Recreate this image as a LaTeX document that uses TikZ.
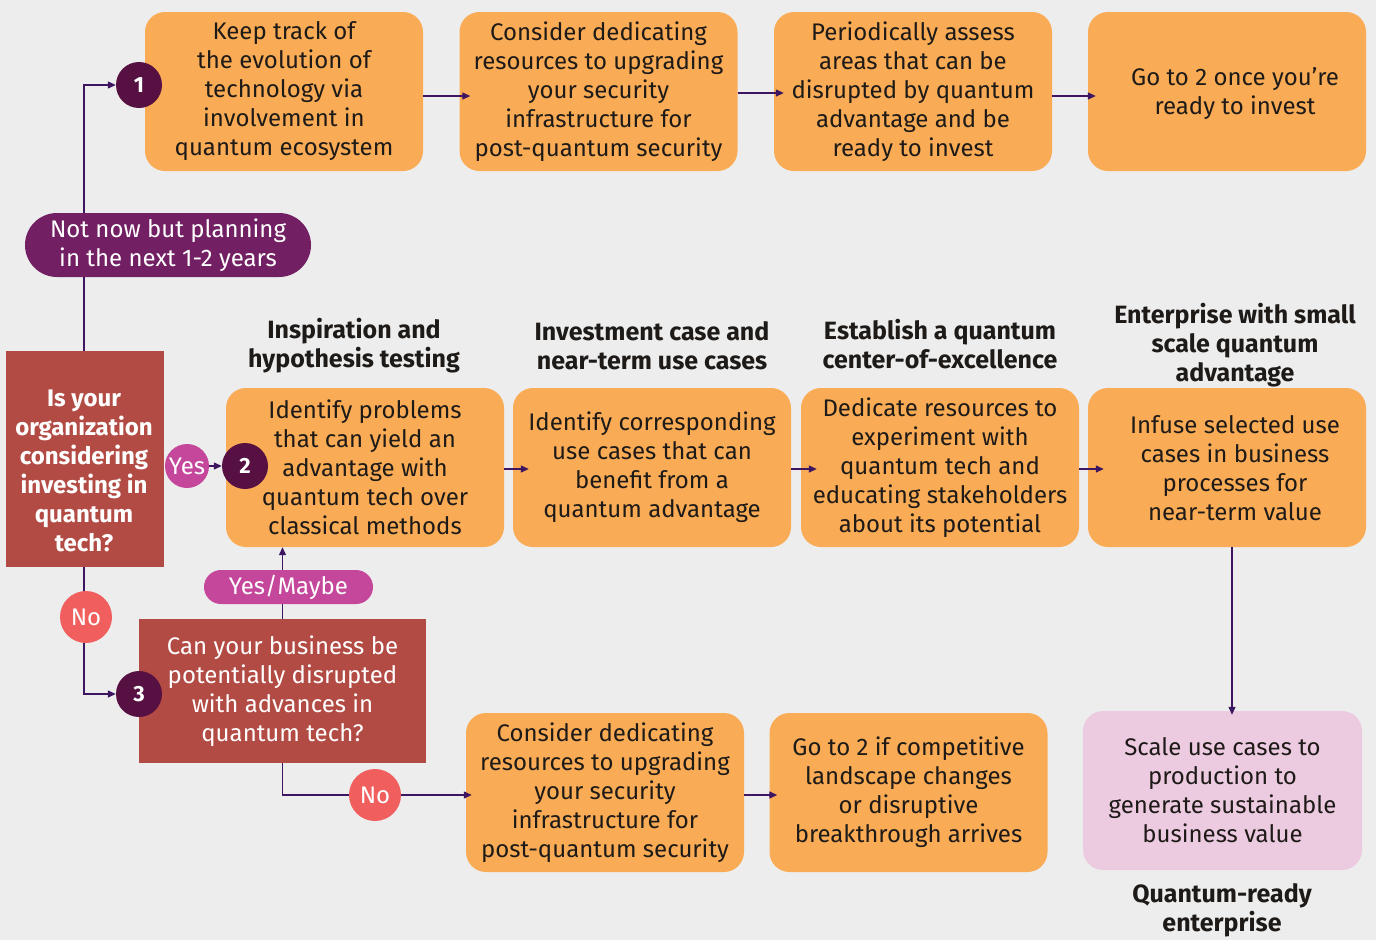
\documentclass[tikz,border=0pt]{standalone}
\usepackage{fontspec}
\setmainfont{Fira Sans}
\usetikzlibrary{arrows.meta}
\pgfdeclarelayer{front}
\pgfsetlayers{main,front}
\definecolor{bg}{HTML}{EDEDED}
\definecolor{orng}{HTML}{F9AC55}
\definecolor{decred}{HTML}{B34B45}
\definecolor{numdark}{HTML}{561042}
\definecolor{pillpurple}{HTML}{722063}
\definecolor{magen}{HTML}{C4479B}
\definecolor{nored}{HTML}{F05E5E}
\definecolor{pinkbox}{HTML}{ECCBE1}
\definecolor{linec}{HTML}{3E1560}
\definecolor{txt}{HTML}{1E1A18}
\newcommand\bodyfont{\fontsize{24}{29}\selectfont}
\newcommand\headfont{\fontsize{25}{29}\selectfont\bfseries}
\newcommand\decfont{\fontsize{24}{29}\selectfont\bfseries}
\tikzset{
  x=1pt, y=-1pt,
  obox/.style={rectangle, rounded corners=20pt, fill=orng, minimum width=278pt, minimum height=159pt, align=center, text=txt, font=\bodyfont, inner sep=0pt},
  pbox/.style={obox, fill=pinkbox},
  btext/.style={align=center, text=txt, font=\bodyfont, inner sep=0pt},
  decbox/.style={rectangle, fill=decred, align=center, text=white, font=\bodyfont, inner sep=0pt},
  numc/.style={circle, fill=numdark, minimum size=46pt, inner sep=0pt, text=white, font=\fontsize{22}{24}\selectfont\bfseries},
  pill/.style={rectangle, rounded corners=17pt, fill=magen, text=white, font=\bodyfont, inner sep=0pt, align=center},
  lblc/.style={circle, inner sep=0pt, text=white, font=\bodyfont},
  head/.style={align=center, text=txt, font=\headfont, inner sep=0pt},
  arr/.style={draw=linec, line width=1.3pt, -{Triangle[length=8pt,width=7pt]}},
}
\begin{document}
\begin{tikzpicture}
\fill[bg] (0,0) rectangle (1376,940);
\useasboundingbox (0,0) rectangle (1376,940);

% row 1
\node[obox] (b1) at (284,91.5) {Keep track of\\the evolution of\\technology via\\involvement in\\quantum ecosystem};
\node[obox] (b2) at (598.5,91.5) {Consider dedicating\\resources to upgrading\\your security\\infrastructure for\\post-quantum security};
\node[obox] (b3) at (913,91.5) {Periodically assess\\areas that can be\\disrupted by quantum\\advantage and be\\ready to invest};
\node[obox] (b4) at (1227,91.5) {};
\node[btext] (b4t) at (1235,93.5) {Go to 2 once you’re\\ready to invest};

% row 2
\node[obox] (c1) at (365,467.5) {Identify problems\\that can yield an\\advantage with\\quantum tech over\\classical methods};
\node[obox] (c2) at (652,467.5) {Identify corresponding\\use cases that can\\benefit from a\\quantum advantage};
\node[obox] (c3) at (940,467.5) {Dedicate resources to\\experiment with\\quantum tech and\\educating stakeholders\\about its potential};
\node[obox] (c4) at (1227,467.5) {};
\node[btext] (c4t) at (1235,468.5) {Infuse selected use\\cases in business\\processes for\\near-term value};

% row 3
\node[obox] (d1) at (605,792.5) {Consider dedicating\\resources to upgrading\\your security\\infrastructure for\\post-quantum security};
\node[obox] (d2) at (908.5,792.5) {Go to 2 if competitive\\landscape changes\\or disruptive\\breakthrough arrives};
\node[pbox, minimum width=279pt] (e) at (1222.5,790.5) {Scale use cases to\\production to\\generate sustainable\\business value};

% decisions
\node[decbox, minimum width=158pt, minimum height=216pt] (dec1) at (85,459) {};
\node[align=center, text=white, font=\decfont, inner sep=0pt] (dec1t) at (84,471) {Is your\\organization\\considering\\investing in\\quantum\\tech?};
\node[decbox, minimum width=287pt, minimum height=144pt] (dec3) at (282.5,691) {Can your business be\\potentially disrupted\\with advances in\\quantum tech?};

% headings
\node[head] (h1) at (354,346) {Inspiration and\\hypothesis testing};
\node[head] (h2) at (652,346) {Investment case and\\near-term use cases};
\node[head] (h3) at (940,344) {Establish a quantum\\center-of-excellence};
\node[head] (h4) at (1235,345) {Enterprise with small\\scale quantum\\advantage};
\node[head] (h5) at (1222,910) {Quantum-ready\\enterprise};

% front layer: badges and labels
\begin{pgfonlayer}{front}
\node[numc] (n1) at (139,85) {1};
\node[numc] (n2) at (245,466) {2};
\node[numc] (n3) at (139,694) {3};
\node[pill, fill=pillpurple, rounded corners=32pt, minimum width=286pt, minimum height=64pt] (notnow) at (168,245) {Not now but planning\\in the next 1-2 years};
\node[pill, minimum width=169pt, minimum height=34pt] (ym) at (288.5,587) {Yes/Maybe};
\node[lblc, fill=magen, minimum size=44pt] (yes) at (187,466) {Yes};
\node[lblc, fill=nored, minimum size=52pt] (no1) at (86,617) {No};
\node[lblc, fill=nored, minimum size=52pt] (no2) at (375,795) {No};
\end{pgfonlayer}

% connectors
\draw[arr] ([xshift=-1pt]dec1.north) |- (n1.west);
\draw[arr] (yes.east) -- (n2.west);
\draw[arr] ([xshift=-1pt]dec1.south) |- (n3.west);
\draw[arr] (dec3.north) -- (dec3.north |- c1.south);
\draw[arr] (dec3.south) |- ([xshift=6pt,yshift=-2.5pt]d1.west);

\draw[arr] ([yshift=-4.5pt]b1.east) -- ([xshift=11pt,yshift=-4.5pt]b2.west);
\draw[arr] ([yshift=-1.5pt]b2.east) -- ([xshift=10pt,yshift=-1.5pt]b3.west);
\draw[arr] ([yshift=-4.5pt]b3.east) -- ([xshift=8pt,yshift=-4.5pt]b4.west);

\draw[arr] ([yshift=-1.5pt]c1.east) -- ([xshift=16pt,yshift=-1.5pt]c2.west);
\draw[arr] ([yshift=-1.5pt]c2.east) -- ([xshift=16pt,yshift=-1.5pt]c3.west);
\draw[arr] ([yshift=-1.5pt]c3.east) -- ([xshift=16pt,yshift=-1.5pt]c4.west);

\draw[arr] ([yshift=-2.5pt]d1.east) -- ([xshift=8pt,yshift=-2.5pt]d2.west);

\draw[arr] ([xshift=5pt]c4.south) -- ([xshift=5pt,yshift=-4pt]c4.south |- e.north);
\end{tikzpicture}
\end{document}
